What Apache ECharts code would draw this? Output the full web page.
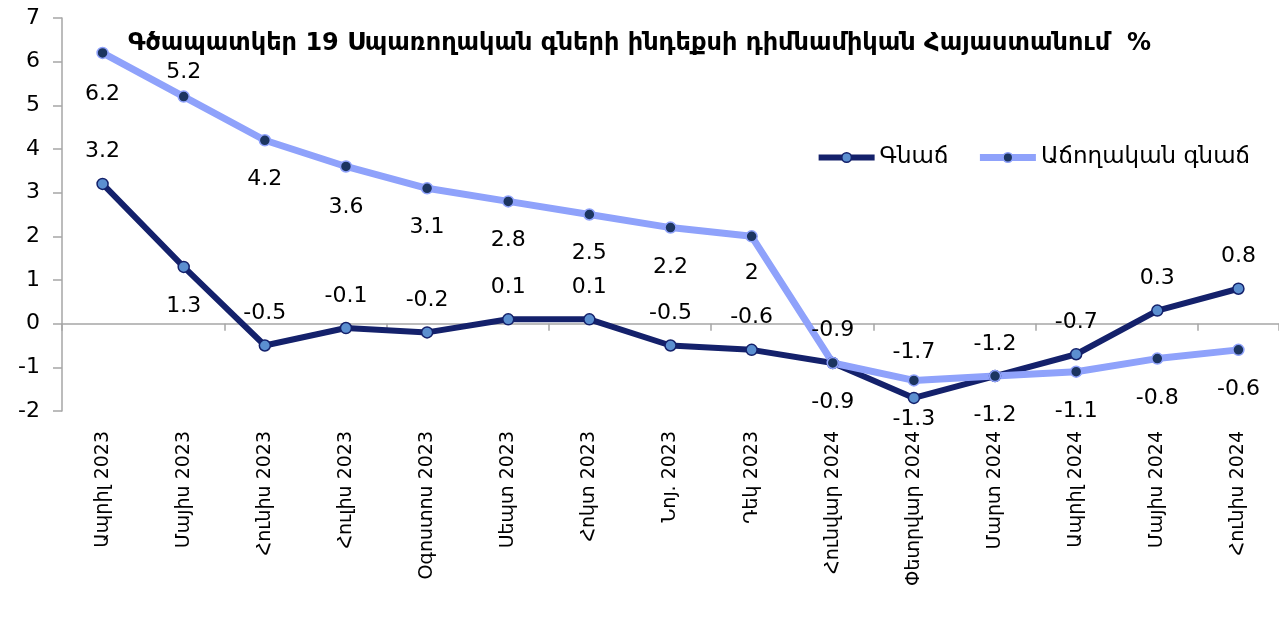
<!DOCTYPE html>
<html lang="hy">
<head>
    <meta charset="UTF-8">
    <title>CPI dynamics</title>
    <script src="https://cdn.jsdelivr.net/npm/echarts@6/dist/echarts.min.js"></script>
    <style>
        html, body { margin: 0; padding: 0; background: #fff; }
        #main { width: 1279px; height: 627px; }
    </style>
</head>
<body>
<div id="main"></div>
<script type="text/javascript">
    // data
    const months = ["Ապրիլ 2023", "Մայիս 2023", "Հունիս 2023", "Հուլիս 2023", "Օգոստոս 2023",
        "Սեպտ 2023", "Հոկտ 2023", "Նոյ. 2023", "Դեկ 2023", "Հունվար 2024",
        "Փետրվար 2024", "Մարտ 2024", "Ապրիլ 2024", "Մայիս 2024", "Հունիս 2024"];
    const inflation = [3.2, 1.3, -0.5, -0.1, -0.2, 0.1, 0.1, -0.5, -0.6, -0.9, -1.7, -1.2, -0.7, 0.3, 0.8];
    const cumulative = [6.2, 5.2, 4.2, 3.6, 3.1, 2.8, 2.5, 2.2, 2, -0.9, -1.3, -1.2, -1.1, -0.8, -0.6];
    const seriesNames = ["Գնաճ", "Աճողական գնաճ"];

    // where each value label sits (style only)
    const inflationLabelPos = ['top', 'bottom', 'top', 'top', 'top', 'top', 'top', 'top', 'top', 'top', 'top', 'top', 'top', 'top', 'top'];
    const inflationLabelGap = [15, 22, 15, 15, 15, 15, 15, 15, 15, 15, 28, 15, 15, 15, 15];
    const cumulativeLabelPos = ['bottom', 'top', 'bottom', 'bottom', 'bottom', 'bottom', 'bottom', 'bottom', 'bottom', 'bottom', 'bottom', 'bottom', 'bottom', 'bottom', 'bottom'];
    const cumulativeLabelGap = [24, 7, 22, 24, 22, 22, 22, 22, 20, 22, 22, 22, 22, 22, 22];

    const font = '"DejaVu Sans", sans-serif';
    const dark = '#14216b';
    const light = '#8fa2fb';
    const darkDot = '#5b8fd0';
    const lightDot = '#1c3560';

    function withLabels(values, positions, gaps) {
        return values.map(function (v, i) {
            return {
                value: v,
                label: { position: positions[i], distance: gaps[i] }
            };
        });
    }

    let myChart = echarts.init(document.getElementById('main'));
    const option = {
        animation: false,
        title: {
            text: 'Գծապատկեր 19 Սպառողական գների ինդեքսի դիմնամիկան Հայաստանում  %',
            left: 'center',
            top: 27,
            textStyle: { fontFamily: font, fontSize: 24, fontWeight: 'bold', color: '#000' }
        },
        legend: {
            right: 24,
            top: 141,
            itemWidth: 56,
            itemHeight: 12,
            itemGap: 28,
            textStyle: { fontFamily: font, fontSize: 23, color: '#000' },
            data: [
                {
                    name: seriesNames[0],
                    lineStyle: { width: 6, color: dark },
                    itemStyle: { color: darkDot, borderColor: dark, borderWidth: 1.5 }
                },
                {
                    name: seriesNames[1],
                    lineStyle: { width: 7, color: light },
                    itemStyle: { color: lightDot, borderColor: light, borderWidth: 1.5 }
                }
            ]
        },
        grid: { left: 62, right: -3, top: 18, bottom: 216 },
        xAxis: [{
            type: 'category',
            data: months,
            boundaryGap: true,
            axisLine: { onZero: true, lineStyle: { color: '#a6a6a6', width: 1.5 } },
            axisTick: { show: true, inside: false, length: 7, lineStyle: { color: '#a6a6a6', width: 1.5 } },
            axisLabel: { show: false }
        }, {
            type: 'category',
            data: months,
            position: 'bottom',
            boundaryGap: true,
            axisLine: { show: false, onZero: false },
            axisTick: { show: false },
            axisLabel: {
                rotate: 90,
                margin: 20,
                interval: 0,
                fontFamily: font,
                fontSize: 19,
                color: '#000'
            }
        }],
        yAxis: {
            type: 'value',
            min: -2,
            max: 7,
            interval: 1,
            splitLine: { show: false },
            axisLine: { show: true, lineStyle: { color: '#a6a6a6', width: 1.5 } },
            axisTick: { show: true, length: 9, lineStyle: { color: '#a6a6a6', width: 1.5 } },
            axisLabel: { margin: 22, fontFamily: font, fontSize: 22, color: '#000' }
        },
        series: [{
            name: seriesNames[0],
            type: 'line',
            xAxisIndex: 0,
            data: withLabels(inflation, inflationLabelPos, inflationLabelGap),
            symbol: 'circle',
            symbolSize: 11,
            lineStyle: { color: dark, width: 6 },
            itemStyle: { color: darkDot, borderColor: dark, borderWidth: 1.5 },
            label: { show: true, fontFamily: font, fontSize: 22, color: '#000' }
        }, {
            name: seriesNames[1],
            type: 'line',
            xAxisIndex: 0,
            data: withLabels(cumulative, cumulativeLabelPos, cumulativeLabelGap),
            symbol: 'circle',
            symbolSize: 11,
            lineStyle: { color: light, width: 7 },
            itemStyle: { color: lightDot, borderColor: light, borderWidth: 1.5 },
            label: { show: true, fontFamily: font, fontSize: 22, color: '#000' }
        }]
    };
    myChart.setOption(option);
</script>
</body>
</html>
